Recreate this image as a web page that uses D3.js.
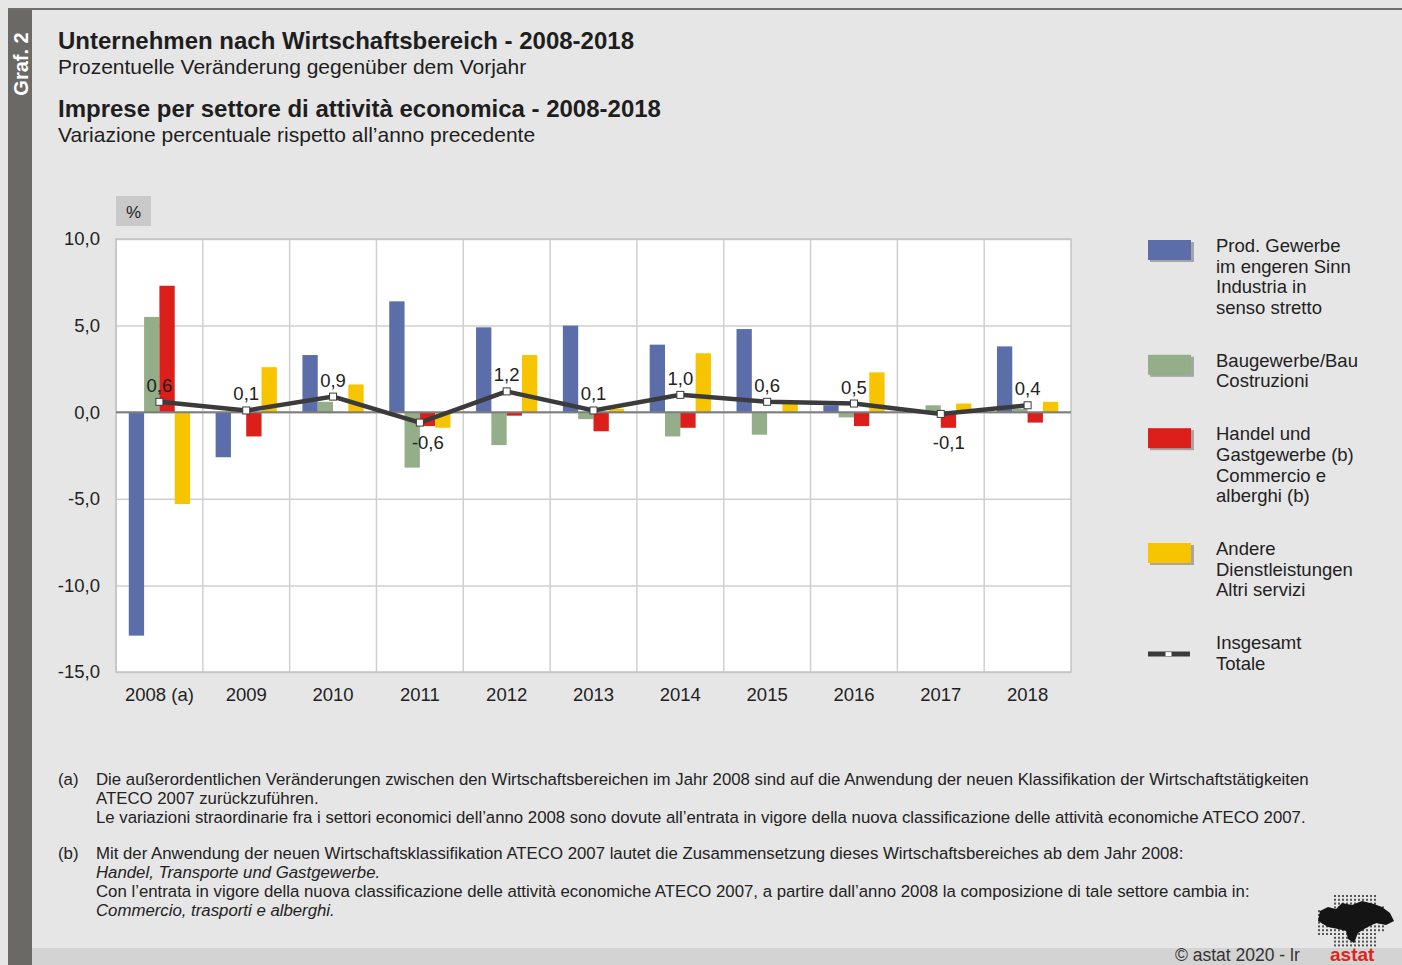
<!DOCTYPE html>
<html>
<head>
<meta charset="utf-8">
<script src="https://cdn.jsdelivr.net/npm/d3@7"></script>
<style>
  body { margin: 0; background: #e6e6e6; }
  svg { display: block; font-family: "Liberation Sans", Arial, sans-serif; }
  .tick text { fill: #222; }
</style>
</head>
<body>
<svg id="chart" width="1402" height="965"></svg>
<script>
// data
const years = ['2008 (a)', '2009', '2010', '2011', '2012', '2013', '2014', '2015', '2016', '2017', '2018'];
const industria   = [-12.9, -2.6, 3.3, 6.4, 4.9, 5.0, 3.9, 4.8, 0.4, 0.0, 3.8];
const costruzioni = [5.5, 0.0, 0.6, -3.2, -1.9, -0.4, -1.4, -1.3, -0.3, 0.4, 0.2];
const commercio   = [7.3, -1.4, 0.0, -0.8, -0.2, -1.1, -0.9, 0.0, -0.8, -0.9, -0.6];
const altri       = [-5.3, 2.6, 1.6, -0.9, 3.3, 0.2, 3.4, 0.5, 2.3, 0.5, 0.6];
const totale      = [0.6, 0.1, 0.9, -0.6, 1.2, 0.1, 1.0, 0.6, 0.5, -0.1, 0.4];
const yTicks = [-15, -10, -5, 0, 5, 10];

const seriesKeys = ['ind', 'bau', 'han', 'and'];
const seriesValues = [industria, costruzioni, commercio, altri];
const colors = ['#5b6ea9', '#93ae88', '#dc1f1a', '#f7c500'];
const legendLabels = [
  ['Prod. Gewerbe', 'im engeren Sinn', 'Industria in', 'senso stretto'],
  ['Baugewerbe/Bau', 'Costruzioni'],
  ['Handel und', 'Gastgewerbe (b)', 'Commercio e', 'alberghi (b)'],
  ['Andere', 'Dienstleistungen', 'Altri servizi'],
  ['Insgesamt', 'Totale']
];

const titles = [
  'Unternehmen nach Wirtschaftsbereich - 2008-2018',
  'Prozentuelle Veränderung gegenüber dem Vorjahr',
  'Imprese per settore di attività economica - 2008-2018',
  'Variazione percentuale rispetto all’anno precedente'
];

const notes = [
  { mark: '(a)', lines: [
    ['Die außerordentlichen Veränderungen zwischen den Wirtschaftsbereichen im Jahr 2008 sind auf die Anwendung der neuen Klassifikation der Wirtschaftstätigkeiten', false],
    ['ATECO 2007 zurückzuführen.', false],
    ['Le variazioni straordinarie fra i settori economici dell’anno 2008 sono dovute all’entrata in vigore della nuova classificazione delle attività economiche ATECO 2007.', false]
  ]},
  { mark: '(b)', lines: [
    ['Mit der Anwendung der neuen Wirtschaftsklassifikation ATECO 2007 lautet die Zusammensetzung dieses Wirtschaftsbereiches ab dem Jahr 2008:', false],
    ['Handel, Transporte und Gastgewerbe.', true],
    ['Con l’entrata in vigore della nuova classificazione delle attività economiche ATECO 2007, a partire dall’anno 2008 la composizione di tale settore cambia in:', false],
    ['Commercio, trasporti e alberghi.', true]
  ]}
];

const locale = d3.formatLocale({ decimal: ',', thousands: '.', grouping: [3], currency: ['', ' €'], minus: '-' });
const fmt = locale.format('.1f');

const svg = d3.select('#chart');
const W = 1402, H = 965;

// page frame
svg.append('rect').attr('width', W).attr('height', H).attr('fill', '#e6e6e6');
svg.append('rect').attr('x', 32).attr('y', 948).attr('width', W - 32).attr('height', H - 948).attr('fill', '#d3d3d3');
svg.append('rect').attr('x', 8).attr('y', 8).attr('width', W - 8).attr('height', 2).attr('fill', '#6f6f6f');
svg.append('rect').attr('x', 8).attr('y', 10).attr('width', 24).attr('height', H - 10).attr('fill', '#6b6966');
svg.append('text')
  .attr('transform', 'translate(28,64) rotate(-90)')
  .attr('text-anchor', 'middle')
  .attr('fill', '#fff')
  .attr('font-weight', 'bold')
  .attr('font-size', 20)
  .text('Graf. 2');

// titles
const titleY = [49, 74, 117, 142];
titles.forEach((t, i) => {
  svg.append('text')
    .attr('x', 58)
    .attr('y', titleY[i])
    .attr('fill', '#1e1e1e')
    .attr('font-size', i % 2 === 0 ? 24 : 21)
    .attr('font-weight', i % 2 === 0 ? 'bold' : 'normal')
    .text(t);
});

// plot area
const plot = { left: 116, top: 239, right: 1071, bottom: 672 };
const pw = plot.right - plot.left, ph = plot.bottom - plot.top;

svg.append('rect').attr('x', 116).attr('y', 196).attr('width', 35).attr('height', 30).attr('fill', '#c9c9c9');
svg.append('text').attr('x', 133.5).attr('y', 218).attr('text-anchor', 'middle')
  .attr('font-size', 17).attr('fill', '#222').text('%');

const chart = svg.append('g').attr('transform', `translate(${plot.left},${plot.top})`);

const x0 = d3.scaleBand().domain(years).range([0, pw]).padding(0);
const x1 = d3.scaleBand().domain(seriesKeys).range([0, x0.bandwidth()]).paddingInner(0).paddingOuter(0.835);
const y = d3.scaleLinear().domain([-15, 10]).range([ph, 0]);

chart.append('rect').attr('width', pw).attr('height', ph).attr('fill', '#fff');

// grid
chart.append('g')
  .call(d3.axisLeft(y).tickValues(yTicks).tickSize(-pw).tickFormat(''))
  .call(g => g.select('.domain').remove())
  .call(g => g.selectAll('line').attr('stroke', '#cfcfcf').attr('stroke-width', 1.5));
chart.append('g')
  .call(d3.axisBottom(x0).tickSize(ph).tickFormat('').offset(0))
  .call(g => g.select('.domain').remove())
  .call(g => g.selectAll('.tick').attr('transform', d => `translate(${x0(d)},0)`))
  .call(g => g.selectAll('line').attr('stroke', '#cfcfcf').attr('stroke-width', 1.5));
chart.append('rect').attr('width', pw).attr('height', ph)
  .attr('fill', 'none').attr('stroke', '#c4c4c4').attr('stroke-width', 1.5);

// axes labels
chart.append('g')
  .call(d3.axisLeft(y).tickValues(yTicks).tickSize(0).tickPadding(16).tickFormat(fmt))
  .call(g => g.select('.domain').remove())
  .call(g => g.selectAll('text').attr('font-size', 18.5).attr('font-family', 'Liberation Sans, Arial, sans-serif'));
chart.append('g')
  .attr('transform', `translate(0,${ph})`)
  .call(d3.axisBottom(x0).tickSize(0).tickPadding(16))
  .call(g => g.select('.domain').remove())
  .call(g => g.selectAll('text').attr('font-size', 18.5).attr('font-family', 'Liberation Sans, Arial, sans-serif'));

// bars
const rows = years.map((yr, i) => ({ year: yr, vals: seriesKeys.map((k, j) => ({ key: k, v: seriesValues[j][i], c: colors[j] })) }));
chart.selectAll('g.year')
  .data(rows)
  .join('g')
  .attr('class', 'year')
  .attr('transform', d => `translate(${x0(d.year)},0)`)
  .selectAll('rect')
  .data(d => d.vals)
  .join('rect')
  .attr('x', d => x1(d.key))
  .attr('width', x1.bandwidth())
  .attr('y', d => y(Math.max(0, d.v)))
  .attr('height', d => Math.abs(y(d.v) - y(0)))
  .attr('fill', d => d.c);

// zero line
chart.append('line')
  .attr('x1', 0).attr('x2', pw).attr('y1', y(0)).attr('y2', y(0))
  .attr('stroke', '#7d7d7d').attr('stroke-width', 2);

// total line
const cx = i => x0(years[i]) + x0.bandwidth() / 2;
const line = d3.line().x((d, i) => cx(i)).y(d => y(d));
chart.append('path')
  .datum(totale)
  .attr('d', line)
  .attr('fill', 'none')
  .attr('stroke', '#3b3b3b')
  .attr('stroke-width', 4.5);
chart.selectAll('rect.mk')
  .data(totale)
  .join('rect')
  .attr('class', 'mk')
  .attr('x', (d, i) => cx(i) - 3.5)
  .attr('y', d => y(d) - 3.5)
  .attr('width', 7).attr('height', 7)
  .attr('fill', '#fff').attr('stroke', '#3b3b3b').attr('stroke-width', 1);
chart.selectAll('text.lbl')
  .data(totale)
  .join('text')
  .attr('class', 'lbl')
  .attr('x', (d, i) => cx(i) + (d < 0 ? 8 : 0))
  .attr('y', d => d < 0 ? y(0) + 37 : y(d) - 10)
  .attr('text-anchor', 'middle')
  .attr('font-size', 18.5)
  .attr('fill', '#222')
  .text(d => fmt(d));

// legend
const leg = svg.append('g').attr('transform', 'translate(1148,240)');
let ly = 0;
legendLabels.forEach((lines, i) => {
  const g = leg.append('g').attr('transform', `translate(0,${ly})`);
  if (i < colors.length) {
    g.append('rect').attr('x', 2).attr('y', 2).attr('width', 44).attr('height', 20).attr('fill', '#a5a5a5');
    g.append('rect').attr('width', 43).attr('height', 20).attr('fill', colors[i]);
  } else {
    g.append('line').attr('x1', 0).attr('x2', 42).attr('y1', 17).attr('y2', 17)
      .attr('stroke', '#3b3b3b').attr('stroke-width', 5);
    g.append('rect').attr('x', 17.5).attr('y', 15).attr('width', 6).attr('height', 4).attr('fill', '#fff');
  }
  lines.forEach((t, k) => {
    g.append('text')
      .attr('x', 68)
      .attr('y', 12 + k * 20.7)
      .attr('font-size', 18.5)
      .attr('fill', '#222')
      .text(t);
  });
  ly += lines.length * 20.7 + 32;
});

// footnotes
let fy = 785;
notes.forEach(n => {
  svg.append('text').attr('x', 58).attr('y', fy).attr('font-size', 16.8).attr('fill', '#222').text(n.mark);
  n.lines.forEach(([t, it], k) => {
    svg.append('text')
      .attr('x', 96)
      .attr('y', fy + k * 18.8)
      .attr('font-size', 16.8)
      .attr('font-style', it ? 'italic' : 'normal')
      .attr('fill', '#222')
      .text(t);
  });
  fy += n.lines.length * 18.8 + 18;
});

// credit + logo
svg.append('text').attr('x', 1175).attr('y', 961).attr('font-size', 17.5).attr('fill', '#333').text('©  astat 2020 - lr');
const logo = svg.append('g').attr('transform', 'translate(1318,895)');
for (let r = 0; r < 14; r++) {
  for (let c = 0; c < 17; c++) {
    if (c < 4 && (r < 4 || r > 10)) continue;
    if (c > 14 && (r < 3 || r > 9)) continue;
    logo.append('rect').attr('x', c * 4).attr('y', r * 3.8).attr('width', 2).attr('height', 2).attr('fill', '#555');
  }
}
logo.append('path')
  .attr('d', 'M2,16 L10,12 L18,14 L24,8 L34,10 L44,6 L56,9 L64,12 L72,18 L76,26 L68,30 L58,28 L48,33 L40,38 L36,48 L30,44 L28,36 L20,34 L10,32 L0,26 Z')
  .attr('fill', '#141414');
svg.append('text').attr('x', 1330).attr('y', 961).attr('font-size', 19).attr('font-weight', 'bold')
  .attr('fill', '#e0231c').text('astat');
</script>
</body>
</html>
